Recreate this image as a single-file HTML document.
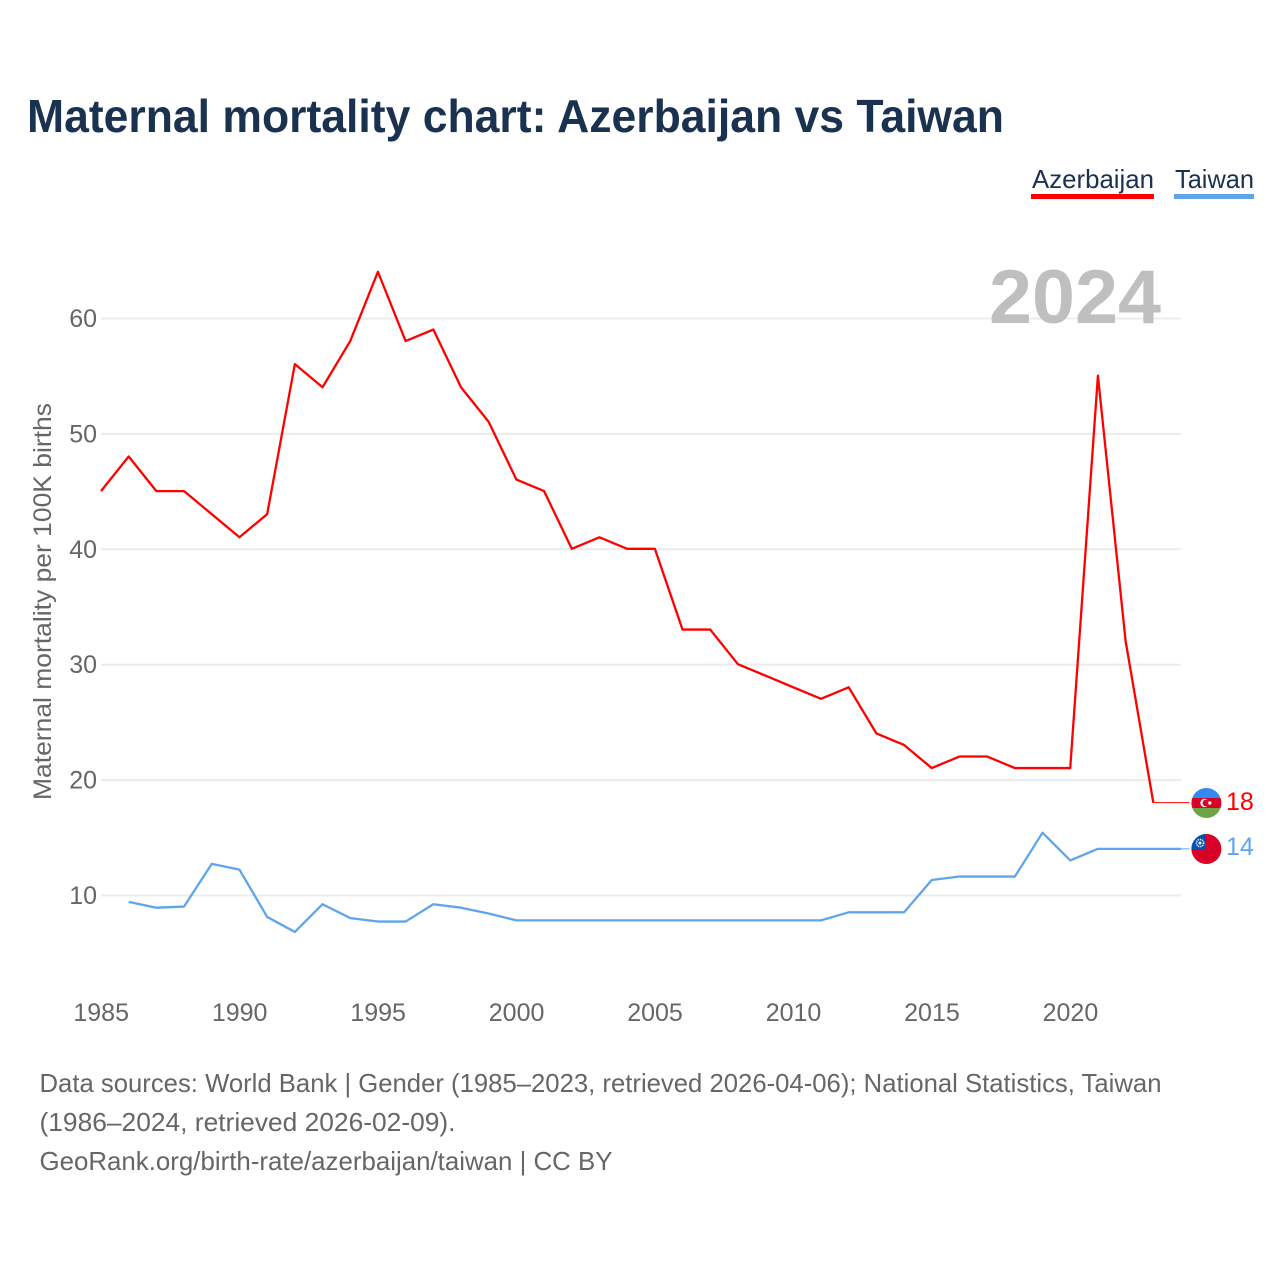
<!DOCTYPE html>
<html lang="en">
<head>
<meta charset="utf-8">
<title>Maternal mortality chart: Azerbaijan vs Taiwan</title>
<style>
html,body{margin:0;padding:0;background:#fff;width:1280px;height:1280px;overflow:hidden}
svg{display:block}
text{font-family:"Liberation Sans",sans-serif}
</style>
</head>
<body>
<svg id="chart" xmlns="http://www.w3.org/2000/svg" width="1280" height="1280" viewBox="0 0 1280 1280">
  <defs>
    <clipPath id="clip-az"><circle cx="1206.4" cy="803" r="15"/></clipPath>
    <clipPath id="clip-tw"><circle cx="1206.4" cy="849" r="15"/></clipPath>
  </defs>
  <rect width="1280" height="1280" fill="#fff"/>
  <text x="27" y="132" font-size="46" font-weight="700" fill="#1a3150" textLength="977" lengthAdjust="spacingAndGlyphs">Maternal mortality chart: Azerbaijan vs Taiwan</text>

  <g>
    <text x="1032" y="188" font-size="26" fill="#1a3150" textLength="122" lengthAdjust="spacingAndGlyphs">Azerbaijan</text>
    <rect x="1031" y="194" width="123" height="5" fill="#ff0000"/>
  </g>
  <g>
    <text x="1175" y="188" font-size="26" fill="#1a3150" textLength="79" lengthAdjust="spacingAndGlyphs">Taiwan</text>
    <rect x="1174" y="194" width="80" height="5" fill="#5fa5ec"/>
  </g>

  <g id="grid"></g>
  <g id="y-ticks"></g>
  <g id="x-ticks"></g>

  <text x="989" y="323" font-size="76" font-weight="700" fill="#bfbfbf" textLength="172" lengthAdjust="spacingAndGlyphs">2024</text>

  <text transform="translate(51,800) rotate(-90)" x="0" y="0" font-size="25" fill="#666666" textLength="397" lengthAdjust="spacingAndGlyphs">Maternal mortality per 100K births</text>

  <g id="series" transform="translate(-0.5,-0.5)"></g>

  <g clip-path="url(#clip-az)">
    <rect x="1191" y="788" width="31" height="10" fill="#338af3"/>
    <rect x="1191" y="798" width="31" height="10" fill="#d80027"/>
    <rect x="1191" y="808" width="31" height="10" fill="#6da544"/>
    <circle cx="1204.5" cy="803" r="4.2" fill="#f0f0f0"/>
    <circle cx="1206" cy="803" r="3.4" fill="#d80027"/>
    <circle cx="1209.8" cy="803" r="1.7" fill="#f0f0f0"/>
  </g>
  <g clip-path="url(#clip-tw)">
    <rect x="1191" y="834" width="31" height="30" fill="#d80027"/>
    <rect x="1191" y="834" width="15" height="15" fill="#0052b4"/>
    <circle cx="1200" cy="843" r="3.6" fill="none" stroke="#f0f0f0" stroke-width="1.6" stroke-dasharray="1.2 0.9"/>
    <circle cx="1200" cy="843" r="1.5" fill="#f0f0f0"/>
  </g>

  <text x="1226" y="810" font-size="25" fill="#ff0000">18</text>
  <text x="1226" y="855" font-size="25" fill="#5fa5ec">14</text>

  <g font-size="26" fill="#666666">
    <text x="39.5" y="1092" textLength="1122" lengthAdjust="spacingAndGlyphs">Data sources: World Bank | Gender (1985–2023, retrieved 2026-04-06); National Statistics, Taiwan</text>
    <text x="39.5" y="1131" textLength="416" lengthAdjust="spacingAndGlyphs">(1986–2024, retrieved 2026-02-09).</text>
    <text x="39.5" y="1170" textLength="573" lengthAdjust="spacingAndGlyphs">GeoRank.org/birth-rate/azerbaijan/taiwan | CC BY</text>
  </g>
</svg>
<script>
const yTickValues = [10, 20, 30, 40, 50, 60];
const xTickYears = [1985, 1990, 1995, 2000, 2005, 2010, 2015, 2020];
const azerbaijanYears = [1985,1986,1987,1988,1989,1990,1991,1992,1993,1994,1995,1996,1997,1998,1999,2000,2001,2002,2003,2004,2005,2006,2007,2008,2009,2010,2011,2012,2013,2014,2015,2016,2017,2018,2019,2020,2021,2022,2023];
const azerbaijanValues = [45,48,45,45,43,41,43,56,54,58,64,58,59,54,51,46,45,40,41,40,40,33,33,30,29,28,27,28,24,23,21,22,22,21,21,21,55,32,18];
const taiwanYears = [1986,1987,1988,1989,1990,1991,1992,1993,1994,1995,1996,1997,1998,1999,2000,2001,2002,2003,2004,2005,2006,2007,2008,2009,2010,2011,2012,2013,2014,2015,2016,2017,2018,2019,2020,2021,2022,2023,2024];
const taiwanValues = [9.4,8.9,9.0,12.7,12.2,8.1,6.8,9.2,8.0,7.7,7.7,9.2,8.9,8.4,7.8,7.8,7.8,7.8,7.8,7.8,7.8,7.8,7.8,7.8,7.8,7.8,8.5,8.5,8.5,11.3,11.6,11.6,11.6,15.4,13.0,14,14,14,14];

const NS = 'http://www.w3.org/2000/svg';
function xScale(year) { return 101.5 + (year - 1985) * (1181.5 - 101.5) / 39; }
function yScale(value) { return 895.5 - (value - 10) * (895.5 - 318.5) / 50; }
function makeEl(tag, attrs, parent) {
  const el = document.createElementNS(NS, tag);
  for (const k in attrs) el.setAttribute(k, attrs[k]);
  parent.appendChild(el);
  return el;
}

const gridGroup = document.getElementById('grid');
const yTickGroup = document.getElementById('y-ticks');
const xTickGroup = document.getElementById('x-ticks');
const seriesGroup = document.getElementById('series');

yTickValues.forEach(function (v) {
  const line = makeEl('line', { x1: 101, x2: 1181, y1: yScale(v), y2: yScale(v), stroke: '#ececec', 'stroke-width': 2 }, gridGroup);
  
  
  const label = makeEl('text', { x: 97, y: yScale(v) + 8.5, 'text-anchor': 'end', 'font-size': 25, fill: '#666666' }, yTickGroup);
  label.textContent = v;
  
  
});

xTickYears.forEach(function (y) {
  const label = makeEl('text', { x: xScale(y) - 0.3, y: 1021, 'text-anchor': 'middle', 'font-size': 25, fill: '#666666' }, xTickGroup);
  label.textContent = y;
  
  
});

function pointsFor(years, values) {
  return years.map(function (y, i) { return xScale(y).toFixed(2) + ',' + yScale(values[i]).toFixed(2); }).join(' ');
}

const azLine = makeEl('polyline', { points: pointsFor(azerbaijanYears, azerbaijanValues), fill: 'none', stroke: '#ff0000', 'stroke-width': 2.3, 'stroke-linejoin': 'round' }, seriesGroup);



const twLine = makeEl('polyline', { points: pointsFor(taiwanYears, taiwanValues), fill: 'none', stroke: '#5fa5ec', 'stroke-width': 2.3, 'stroke-linejoin': 'round' }, seriesGroup);



const azLastYear = azerbaijanYears[azerbaijanYears.length - 1];
const azLastValue = azerbaijanValues[azerbaijanValues.length - 1];
const azConnector = makeEl('line', { x1: xScale(azLastYear), x2: 1190, y1: yScale(azLastValue), y2: yScale(azLastValue), stroke: '#ff0000', 'stroke-width': 1 }, seriesGroup);



const twLastYear = taiwanYears[taiwanYears.length - 1];
const twLastValue = taiwanValues[taiwanValues.length - 1];
const twConnector = makeEl('line', { x1: xScale(twLastYear), x2: 1190, y1: yScale(twLastValue), y2: yScale(twLastValue), stroke: '#5fa5ec', 'stroke-width': 1 }, seriesGroup);


</script>
</body>
</html>
